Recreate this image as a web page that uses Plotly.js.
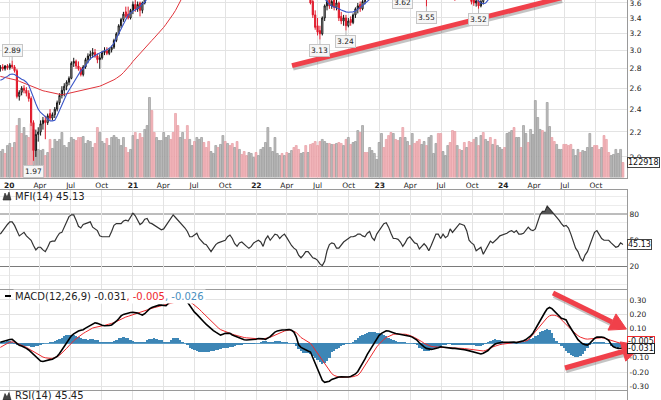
<!DOCTYPE html>
<html><head><meta charset="utf-8">
<script src="https://cdn.plot.ly/plotly-3.0.1.min.js"></script>
<style>html,body{margin:0;padding:0;background:#fff}#chart{width:661px;height:400px}</style>
</head><body><div id="chart"></div>
<script>
// ---------- DATA (weekly bars, week 0 = 2019-12-06) ----------
const firstWeek = '2019-12-06';
const quarterTicks = ['2020-01-01','2020-04-01','2020-07-01','2020-10-01','2021-01-01','2021-04-01','2021-07-01','2021-10-01','2022-01-01','2022-04-01','2022-07-01','2022-10-01','2023-01-01','2023-04-01','2023-07-01','2023-10-01','2024-01-01','2024-04-01','2024-07-01','2024-10-01'];
const quarterLabels = ['<b>20</b>','Apr','Jul','Oct','<b>21</b>','Apr','Jul','Oct','<b>22</b>','Apr','Jul','Oct','<b>23</b>','Apr','Jul','Oct','<b>24</b>','Apr','Jul','Oct'];
const priceTicks = [2.0,2.2,2.4,2.6,2.8,3.0,3.2,3.4,3.6];

// candles visible inside the cropped price window
const candleWeek = [0,1,2,3,4,5,6,7,8,9,10,11,12,13,14,15,16,17,18,19,20,21,22,23,24,25,26,27,28,29,30,31,32,33,34,35,36,37,38,39,40,41,42,43,44,45,46,47,48,49,50,51,52,53,54,55,56,57,58,59,60,61,62,
 131,132,133,134,135,136,137,138,139,140,141,142,143,144,145,146,147,148,149,150,151,152,153,154,
 170,180,192,199,200,201,202,203,204,205];
const candleOpen = [2.80,2.82,2.80,2.83,2.81,2.84,2.82,2.78,2.52,2.56,2.60,2.58,2.55,2.50,2.28,2.05,2.18,2.20,2.27,2.30,2.28,2.36,2.32,2.35,2.40,2.46,2.53,2.58,2.62,2.66,2.70,2.86,2.88,2.83,2.80,2.74,2.82,2.90,2.94,2.96,2.98,2.94,2.90,2.92,2.98,3.00,2.97,3.01,3.04,3.12,3.20,3.30,3.38,3.48,3.45,3.40,3.50,3.58,3.52,3.60,3.50,3.60,3.70,
 3.70,3.62,3.44,3.30,3.24,3.20,3.40,3.56,3.64,3.56,3.64,3.54,3.60,3.42,3.36,3.40,3.30,3.38,3.34,3.44,3.52,3.58,3.52,3.62,
 3.72,3.72,3.75,3.72,3.64,3.60,3.63,3.56,3.62,3.68];
const candleHigh = [2.84,2.85,2.84,2.85,2.86,2.89,2.84,2.80,2.58,2.62,2.63,2.61,2.58,2.52,2.30,2.22,2.24,2.30,2.33,2.34,2.36,2.40,2.37,2.42,2.48,2.55,2.62,2.65,2.68,2.72,2.88,2.92,2.90,2.88,2.82,2.84,2.92,2.97,3.00,3.03,3.02,2.97,2.96,3.00,3.04,3.04,3.03,3.06,3.14,3.22,3.32,3.40,3.48,3.55,3.55,3.52,3.62,3.64,3.62,3.62,3.62,3.72,3.80,
 3.75,3.66,3.50,3.40,3.30,3.42,3.58,3.66,3.70,3.68,3.68,3.66,3.62,3.48,3.44,3.44,3.40,3.42,3.46,3.54,3.60,3.62,3.64,3.72,
 3.78,3.78,3.78,3.75,3.68,3.66,3.66,3.64,3.70,3.78];
const candleLow = [2.77,2.78,2.78,2.79,2.79,2.80,2.76,2.50,2.48,2.53,2.55,2.52,2.47,2.25,1.97,2.00,2.12,2.17,2.22,2.14,2.26,2.30,2.30,2.32,2.38,2.44,2.50,2.52,2.58,2.63,2.69,2.82,2.80,2.78,2.72,2.72,2.80,2.86,2.90,2.92,2.92,2.86,2.80,2.90,2.95,2.95,2.95,2.98,3.02,3.10,3.18,3.27,3.35,3.40,3.38,3.38,3.45,3.48,3.48,3.42,3.46,3.58,3.68,
 3.58,3.40,3.25,3.18,3.13,3.18,3.36,3.50,3.52,3.52,3.50,3.50,3.36,3.32,3.30,3.24,3.28,3.30,3.32,3.40,3.46,3.48,3.50,3.58,
 3.62,3.55,3.63,3.58,3.56,3.55,3.52,3.54,3.58,3.66];
const candleClose = [2.82,2.80,2.83,2.81,2.84,2.82,2.78,2.52,2.56,2.60,2.58,2.55,2.50,2.28,2.05,2.18,2.20,2.27,2.30,2.28,2.34,2.32,2.35,2.40,2.46,2.53,2.58,2.62,2.66,2.70,2.86,2.88,2.83,2.80,2.74,2.82,2.90,2.94,2.96,2.98,2.94,2.90,2.92,2.98,3.00,2.97,3.01,3.04,3.12,3.20,3.30,3.38,3.45,3.42,3.40,3.50,3.58,3.52,3.58,3.50,3.60,3.70,3.78,
 3.60,3.44,3.28,3.22,3.20,3.40,3.56,3.62,3.56,3.62,3.54,3.60,3.40,3.36,3.40,3.30,3.36,3.34,3.44,3.52,3.56,3.52,3.62,3.70,
 3.68,3.65,3.68,3.62,3.60,3.63,3.56,3.62,3.68,3.76];

// moving averages (visible stretches)
const redMAStart = 0;
const redMA = [2.72,2.715,2.71,2.705,2.70,2.695,2.69,2.68,2.67,2.66,2.65,2.645,2.635,2.62,2.61,2.60,2.59,2.58,2.575,2.57,
 2.565,2.56,2.55,2.545,2.54,2.535,2.535,2.54,2.545,2.55,2.555,2.56,2.565,2.57,2.575,2.58,2.59,2.595,2.60,2.605,
 2.61,2.615,2.62,2.63,2.64,2.65,2.66,2.67,2.685,2.70,2.715,2.735,2.76,2.785,2.81,2.845,2.88,2.91,2.94,2.975,
 3.005,3.035,3.06,3.09,3.12,3.15,3.18,3.21,3.245,3.28,3.32,3.36,3.40,3.45,3.50,3.56,3.62,3.68,3.75];
const blueMA1Start = 0;
const blueMA1 = [2.68,2.69,2.71,2.72,2.74,2.745,2.74,2.72,2.70,2.69,2.68,2.66,2.63,2.56,2.51,2.45,2.40,2.37,2.35,2.33,
 2.31,2.295,2.295,2.30,2.34,2.39,2.45,2.50,2.54,2.58,2.62,2.65,2.70,2.74,2.78,2.80,2.84,2.87,2.91,2.93,
 2.95,2.96,2.975,2.99,3.00,3.01,3.03,3.05,3.09,3.14,3.20,3.26,3.32,3.39,3.44,3.46,3.49,3.505,3.53,3.55,3.59,3.61,3.66,3.72];
const blueMA2Start = 136;
const blueMA2 = [3.70,3.66,3.61,3.58,3.56,3.55,3.53,3.52,3.505,3.49,3.48,3.475,3.475,3.48,3.49,3.51,3.54,3.565,3.59,3.62,3.65,3.70];
const blueMA3Start = 200;
const blueMA3 = [3.70,3.66,3.63,3.60,3.59,3.60,3.635,3.68];

// weekly volume (thousands) and up/down week flag
const volumeK = [213,230,197,262,279,246,287,426,484,361, 410,344,328,443,394,312,230,221,230,180,
 205,312,238,312,295,312,369,262,246,287, 328,312,303,328,328,336,279,303,295,246,
 279,410,369,295,279,320,262,328,344,328, 312,262,328,246,205,230,344,369,312,361,
 328,394,426,656,549,369,328,303,303,369, 328,344,312,369,525,426,328,369,312,426,
 312,262,295,328,312,328,287,246,295,213, 197,262,246,271,344,295,279,262,279,246,
 295,230,189,213,180,205,197,164,205,180, 230,246,287,410,246,213,328,197,180,197,
 180,205,197,221,246,262,230,197,205,262, 205,271,279,295,262,295,312,295,279,279,
 271,271,279,287,279,262,312,328,271,287, 295,385,369,426,205,205,246,221,197,148,
 287,361,246,312,344,369,361,312,303,328, 410,328,295,262,361,279,295,312,271,295,
 262,328,344,197,279,361,361,213,180,262, 287,385,377,262,230,221,287,246,295,287,
 312,328,262,344,369,312,295,328,271,312, 262,246,230,246,361,369,385,410,328,328,
 246,426,361,287,394,353,631,492,394,385, 369,615,418,328,295,271,230,230,271,271,
 262,271,230,180,230,205,221,213,246,361, 246,262,262,230,246,344,312,205,180,189,
 230,197,230,122.918];
const volumeUp = [1,1,0,1,1,0,1,0,1,0, 1,1,0,0,0,1,1,1,1,0, 1,0,1,1,1,1,1,1,1,1, 1,1,0,0,0,1,1,1,1,1,
 0,0,1,1,1,0,1,1,1,1, 1,1,1,0,0,1,1,0,1,0, 0,1,1,1,0,0,1,1,1,1, 1,1,0,0,0,0,1,1,0,0,
 1,1,0,1,1,1,0,0,0,1, 1,1,0,1,1,0,1,0,0,1, 0,1,0,0,0,1,1,1,0,1, 1,1,1,1,1,1,1,1,1,0,
 1,0,1,1,0,0,0,1,1,0, 1,0,0,0,0,0,1,1,1,0, 1,0,1,0,0,1,0,1,0,1, 1,1,0,1,0,0,1,1,1,1,
 1,1,0,0,0,0,1,0,0,1, 0,1,1,0,1,0,0,0,1,1, 0,1,1,1,1,0,0,1,1,1, 0,0,0,1,0,1,0,1,0,0,
 0,1,0,1,0,1,1,0,1,0, 1,1,1,0,1,1,1,0,1,1, 0,1,1,0,1,1,1,1,1,0, 1,1,1,0,0,1,1,1,0,0,
 0,0,1,1,1,0,1,1,1,1, 1,0,0,0,1,0,0,0,1,1, 1,1,1,0];

const mfi = [57,61,65,68,71,71,67,60,55,57, 59,55,53,50,44,39,42,42,39,37, 42,48,49,49,54,58,59,65,72,77,
 79,79,73,66,64,68,69,70,71,65, 63,61,55,54,54,54,54,60,67,69, 69,69,72,73,72,76,81,78,72,68,
 70,74,75,70,69,67,65,63,62,63, 67,72,76,79,76,73,71,68,64,60, 54,54,56,58,52,49,46,45,41,37,
 41,45,47,48,49,50,54,56,52,46, 43,47,48,45,43,41,43,47,49,50, 48,43,51,55,50,54,57,56,52,55,
 57,53,48,44,41,39,33,30,33,37, 37,33,30,29,27,23,21,26,38,45, 47,46,41,41,45,48,50,52,54,54,
 55,57,57,55,54,58,60,53,50,57, 61,64,69,70,65,58,52,52,51,48, 43,47,52,54,50,47,46,40,43,46,
 43,38,44,50,57,57,52,57,53,55, 63,59,62,65,69,68,67,61,50,47, 45,38,40,42,34,39,45,49,47,49,
 52,55,56,57,58,60,61,59,61,57, 57,58,61,65,62,61,63,70,79,83, 83,89,86,82,79,77,73,69,66,67,
 64,57,50,41,37,30,26,33,37,44, 51,59,61,56,52,50,50,50,47,44, 42,43,47,45.13];

const macd = [0.008,0.013,0.018,0.023,0.026,0.027,0.015,0.000,-0.014,-0.018,
 -0.024,-0.035,-0.046,-0.062,-0.081,-0.097,-0.114,-0.123,-0.126,-0.120,
 -0.115,-0.113,-0.110,-0.102,-0.090,-0.070,-0.046,-0.016,0.009,0.030,
 0.052,0.066,0.077,0.085,0.090,0.094,0.105,0.115,0.125,0.135,
 0.142,0.138,0.129,0.125,0.122,0.120,0.123,0.127,0.138,0.153,
 0.170,0.190,0.200,0.205,0.209,0.213,0.214,0.213,0.210,0.202,
 0.196,0.205,0.222,0.238,0.248,0.255,0.260,0.264,0.264,0.260,
 0.260,0.277,0.290,0.308,0.325,0.335,0.338,0.330,0.310,0.286,
 0.255,0.238,0.216,0.200,0.180,0.164,0.148,0.131,0.115,0.100,
 0.088,0.077,0.066,0.057,0.063,0.069,0.069,0.069,0.058,0.051,
 0.044,0.037,0.031,0.025,0.023,0.023,0.023,0.025,0.028,0.033,
 0.034,0.031,0.027,0.035,0.046,0.062,0.078,0.086,0.091,0.092,
 0.092,0.094,0.095,0.090,0.078,0.045,-0.010,-0.028,-0.038,-0.048,
 -0.053,-0.060,-0.100,-0.139,-0.188,-0.225,-0.256,-0.270,-0.268,-0.262,
 -0.250,-0.244,-0.238,-0.233,-0.232,-0.234,-0.236,-0.233,-0.229,-0.222,
 -0.212,-0.195,-0.168,-0.143,-0.110,-0.077,-0.050,-0.021,0.006,0.035,
 0.055,0.069,0.078,0.087,0.085,0.082,0.074,0.068,0.065,0.065,
 0.063,0.059,0.054,0.049,0.043,0.035,0.022,0.004,-0.013,-0.024,
 -0.035,-0.039,-0.042,-0.039,-0.036,-0.030,-0.024,-0.026,-0.033,-0.035,
 -0.035,-0.035,-0.035,-0.036,-0.038,-0.040,-0.044,-0.047,-0.052,-0.058,
 -0.064,-0.069,-0.072,-0.074,-0.069,-0.061,-0.050,-0.032,-0.018,-0.005,
 0.001,0.005,0.007,0.007,0.007,0.010,0.012,0.008,0.005,0.009,
 0.012,0.018,0.026,0.038,0.052,0.070,0.100,0.128,0.157,0.190,
 0.213,0.238,0.248,0.240,0.224,0.208,0.190,0.173,0.168,0.162,
 0.130,0.104,0.069,0.046,0.025,0.010,-0.003,-0.009,-0.012,0.000,
 0.018,0.034,0.044,0.045,0.043,0.041,0.031,0.021,-0.007,-0.024,
 -0.030,-0.035,-0.034,-0.031];
const macdSignal = [-0.028,-0.018,-0.008,0.000,0.006,0.011,0.006,0.000,-0.004,-0.011,
 -0.016,-0.027,-0.038,-0.047,-0.058,-0.069,-0.080,-0.088,-0.095,-0.100,
 -0.104,-0.104,-0.104,-0.101,-0.093,-0.083,-0.068,-0.055,-0.035,-0.017,
 0.002,0.018,0.032,0.046,0.057,0.068,0.078,0.089,0.098,0.106,
 0.110,0.115,0.118,0.121,0.124,0.127,0.131,0.138,0.143,0.152,
 0.160,0.167,0.175,0.182,0.187,0.193,0.199,0.204,0.209,0.213,
 0.219,0.225,0.230,0.236,0.242,0.247,0.251,0.256,0.259,0.264,
 0.268,0.273,0.277,0.281,0.286,0.291,0.296,0.298,0.296,0.292,
 0.287,0.277,0.265,0.254,0.237,0.220,0.203,0.187,0.172,0.155,
 0.140,0.123,0.108,0.095,0.088,0.080,0.074,0.069,0.063,0.058,
 0.053,0.047,0.042,0.040,0.038,0.036,0.034,0.032,0.030,0.030,
 0.030,0.031,0.032,0.037,0.042,0.050,0.057,0.064,0.072,0.078,
 0.085,0.089,0.092,0.089,0.083,0.075,0.058,0.040,0.030,0.020,
 0.010,0.000,-0.022,-0.046,-0.068,-0.093,-0.115,-0.139,-0.165,-0.185,
 -0.210,-0.222,-0.229,-0.234,-0.236,-0.236,-0.236,-0.235,-0.233,-0.231,
 -0.226,-0.221,-0.205,-0.178,-0.155,-0.130,-0.104,-0.078,-0.050,-0.025,
 -0.006,0.012,0.027,0.040,0.049,0.056,0.062,0.064,0.065,0.065,
 0.065,0.063,0.060,0.056,0.048,0.040,0.032,0.023,0.012,0.000,
 -0.008,-0.016,-0.021,-0.024,-0.026,-0.028,-0.029,-0.030,-0.030,-0.030,
 -0.030,-0.030,-0.030,-0.030,-0.033,-0.035,-0.036,-0.038,-0.041,-0.044,
 -0.047,-0.051,-0.053,-0.053,-0.053,-0.049,-0.044,-0.036,-0.025,-0.018,
 -0.012,-0.009,-0.006,-0.003,-0.001,0.001,0.004,0.006,0.007,0.007,
 0.009,0.012,0.017,0.023,0.040,0.056,0.080,0.100,0.120,0.142,
 0.160,0.178,0.190,0.195,0.194,0.190,0.180,0.165,0.147,0.130,
 0.114,0.097,0.081,0.067,0.053,0.043,0.036,0.031,0.029,0.031,
 0.034,0.037,0.040,0.041,0.039,0.036,0.031,0.025,0.020,0.013,
 0.008,0.004,0.000,-0.005];
const macdHist = [0.008,0.010,0.012,0.013,0.015,0.012,-0.005,-0.010,-0.015,-0.018,
 -0.020,-0.020,-0.020,-0.022,-0.022,-0.020,-0.018,-0.012,-0.005,0.000,
 0.005,0.008,0.010,0.015,0.022,0.030,0.040,0.048,0.055,0.058,
 0.058,0.055,0.050,0.042,0.035,0.030,0.028,0.026,0.027,0.027,
 0.025,0.020,0.012,0.008,0.006,0.006,0.008,0.010,0.015,0.025,
 0.035,0.040,0.042,0.040,0.035,0.025,0.018,0.012,0.010,0.008,
 0.008,0.012,0.020,0.028,0.032,0.035,0.030,0.025,0.020,0.012,
 0.008,0.010,0.025,0.035,0.038,0.035,0.025,0.010,0.000,-0.015,
 -0.030,-0.040,-0.048,-0.055,-0.058,-0.058,-0.058,-0.058,-0.057,-0.055,
 -0.050,-0.048,-0.045,-0.040,-0.035,-0.030,-0.030,-0.028,-0.025,-0.020,
 -0.015,-0.012,-0.010,-0.008,-0.008,-0.008,-0.006,-0.004,0.000,0.005,
 0.010,0.015,0.015,0.012,0.010,0.012,0.015,0.016,0.014,0.012,
 0.010,0.008,0.005,0.002,-0.005,-0.020,-0.040,-0.055,-0.065,-0.070,
 -0.070,-0.075,-0.085,-0.100,-0.115,-0.130,-0.140,-0.135,-0.120,-0.100,
 -0.060,-0.050,-0.040,-0.030,-0.020,-0.012,-0.008,-0.004,0.000,0.008,
 0.020,0.035,0.050,0.060,0.068,0.072,0.075,0.076,0.075,0.072,
 0.070,0.066,0.060,0.050,0.040,0.030,0.022,0.016,0.012,0.010,
 0.008,0.006,0.004,0.002,0.000,-0.005,-0.015,-0.030,-0.042,-0.050,
 -0.052,-0.050,-0.045,-0.040,-0.035,-0.030,-0.022,-0.015,-0.010,-0.008,
 -0.008,-0.010,-0.010,-0.012,-0.012,-0.012,-0.012,-0.010,-0.010,-0.012,
 -0.015,-0.018,-0.020,-0.018,-0.012,-0.005,0.008,0.018,0.025,0.028,
 0.026,0.020,0.014,0.010,0.006,0.005,0.006,0.004,0.002,0.004,
 0.006,0.010,0.015,0.020,0.028,0.036,0.048,0.060,0.075,0.088,
 0.095,0.097,0.090,0.070,0.040,0.015,-0.005,-0.020,-0.035,-0.050,
 -0.065,-0.080,-0.090,-0.097,-0.095,-0.090,-0.075,-0.055,-0.035,-0.015,
 0.000,0.008,0.012,0.012,0.010,0.006,0.000,-0.008,-0.018,-0.024,
 -0.028,-0.030,-0.028,-0.026];

// price point labels: [week, price]
const lowLabels = [[14,1.97],[135,3.13],[146,3.24],[180,3.55],[202,3.52]];
const highLabels = [[5,2.89]];
const topLabels = [[170,3.62]];

// ---------- helpers ----------
function wk(i){ const d=new Date(Date.UTC(2019,11,6)+i*7*864e5); return d.toISOString().slice(0,10); }
const N = volumeK.length;
const dates = Array.from({length:N},(_,i)=>wk(i));
const seg = (start,arr)=>arr.map((_,k)=>wk(start+k));
const W=627, H=400;
const PX = x=>x/W, PY = y=>1-y/H;
function pathPx(pts){ return 'M'+pts.map(p=>PX(p[0]).toFixed(5)+','+PY(p[1]).toFixed(5)).join(' L')+' Z'; }

const FONT='DejaVu Sans';
const grid='#e3e3e3';
const barW = 7*864e5*0.82;

const traces = [];
traces.push({type:'bar', x:dates, y:volumeK, xaxis:'x', yaxis:'y', width:barW,
  marker:{color:volumeUp.map(u=>u?'#bebebe':'#f3b9be'), line:{color:volumeUp.map(u=>u?'#8e8e8e':'#e3939b'), width:0.6}}});
traces.push({type:'candlestick', x:candleWeek.map(wk), open:candleOpen, high:candleHigh, low:candleLow, close:candleClose,
  xaxis:'x', yaxis:'y2', whiskerwidth:0,
  increasing:{line:{color:'#111', width:1}, fillcolor:'#ffffff'},
  decreasing:{line:{color:'#e0192b', width:1}, fillcolor:'#e0192b'}});
traces.push({type:'scatter', mode:'lines', x:seg(redMAStart,redMA), y:redMA, xaxis:'x', yaxis:'y2', line:{color:'#e0353c', width:1}});
[[blueMA1Start,blueMA1],[blueMA2Start,blueMA2],[blueMA3Start,blueMA3]].forEach(([s,a])=>{
  traces.push({type:'scatter', mode:'lines', x:seg(s,a), y:a, xaxis:'x', yaxis:'y2', line:{color:'#3a56c8', width:1.1}});
});
traces.push({type:'scatter', mode:'lines', x:dates, y:dates.map(()=>80), xaxis:'x2', yaxis:'y3', line:{width:0, color:'rgba(0,0,0,0)'}});
traces.push({type:'scatter', mode:'lines', x:dates, y:mfi.map(v=>Math.max(v,80)), xaxis:'x2', yaxis:'y3', fill:'tonexty', fillcolor:'#555', line:{width:0, color:'rgba(0,0,0,0)'}});
traces.push({type:'scatter', mode:'lines', x:dates, y:mfi, xaxis:'x2', yaxis:'y3', line:{color:'#333', width:1.2}});
traces.push({type:'bar', x:dates, y:macdHist, xaxis:'x3', yaxis:'y4', width:7*864e5, marker:{color:'#3d86b6', line:{width:0}}});
traces.push({type:'scatter', mode:'lines', x:dates, y:macdSignal, xaxis:'x3', yaxis:'y4', line:{color:'#ee2a2e', width:1}});
traces.push({type:'scatter', mode:'lines', x:dates, y:macd, xaxis:'x3', yaxis:'y4', line:{color:'#000', width:1.6}});
traces.push({type:'scatter', mode:'lines', x:[dates[0]], y:[50], xaxis:'x4', yaxis:'y5', line:{width:0}});

const xRange=['2019-12-05','2025-01-01'];
const xBase = {range:xRange, type:'date', tickmode:'array', tickvals:quarterTicks, showgrid:true, gridcolor:grid, gridwidth:1, zeroline:false, ticks:'', rangeslider:{visible:false}};
const tickFont = {family:FONT, size:7.5, color:'#222'};

const layout = {
  width:661, height:400, margin:{l:0,r:34,t:0,b:0}, paper_bgcolor:'#fff', plot_bgcolor:'#fff',
  showlegend:false, hovermode:false, bargap:0,
  xaxis: Object.assign({}, xBase, {anchor:'y', ticktext:quarterLabels, showticklabels:true, tickfont:tickFont, showline:true, linecolor:'#9a9a9a', linewidth:1}),
  xaxis2: Object.assign({}, xBase, {anchor:'y3', matches:'x', ticktext:quarterLabels, showticklabels:false, showline:true, mirror:true, linecolor:'#9a9a9a'}),
  xaxis3: Object.assign({}, xBase, {anchor:'y4', matches:'x', ticktext:quarterLabels, showticklabels:false, showline:true, mirror:true, linecolor:'#9a9a9a'}),
  xaxis4: Object.assign({}, xBase, {anchor:'y5', matches:'x', ticktext:quarterLabels, showticklabels:false, showline:true, mirror:true, linecolor:'#9a9a9a'}),
  yaxis: {domain:[1-177.5/400,1], anchor:'x', range:[0,1455.5], showticklabels:false, showgrid:false, zeroline:false, fixedrange:true},
  yaxis2: {overlaying:'y', anchor:'x', side:'right', type:'log', range:[Math.log10(1.849), Math.log10(3.641)],
           tickmode:'array', tickvals:priceTicks, ticktext:priceTicks.map(v=>v.toFixed(1)), tickfont:tickFont, ticklabeloverflow:'allow',
           showgrid:true, gridcolor:grid, zeroline:false, showline:true, linecolor:'#9a9a9a', ticks:''},
  yaxis3: {domain:[1-289/400, 1-189.5/400], anchor:'x2', side:'right', range:[-5.7,108], tickmode:'array', tickvals:[20,50,80],
           tickfont:tickFont, showgrid:false, zeroline:false, showline:true, mirror:true, linecolor:'#9a9a9a', ticks:'',
           minor:{tickmode:'array', tickvals:[0,10,30,40,60,70,90,100], showgrid:true, gridcolor:'#ececec', ticks:''}},
  yaxis4: {domain:[1-390/400, 1-290/400], anchor:'x3', side:'right', range:[-0.323,0.369], tickmode:'array',
           tickvals:[-0.3,-0.2,-0.1,0.1,0.2,0.3], ticktext:['-0.30','-0.20','-0.10','0.10','0.20','0.30'],
           tickfont:tickFont, showgrid:true, gridcolor:grid, zeroline:true, zerolinecolor:'#5b9cc6', zerolinewidth:1,
           showline:true, mirror:true, linecolor:'#9a9a9a', ticks:''},
  yaxis5: {domain:[0, 1-391/400], anchor:'x4', side:'right', range:[0,100], showticklabels:false, showgrid:false, zeroline:false,
           showline:true, mirror:true, linecolor:'#9a9a9a'},
  shapes:[], annotations:[]
};

[80,20].forEach(v=>layout.shapes.push({type:'line', xref:'paper', yref:'y3', x0:0, x1:1, y0:v, y1:v, line:{color:'#7a7a7a', width:1}, layer:'below'}));

const red='#f0404a', shadow='rgba(60,60,60,0.3)';
layout.shapes.push({type:'line', xref:'paper', yref:'paper', x0:PX(293), y0:PY(68), x1:PX(562), y1:PY(0.5), line:{color:shadow, width:5}});
layout.shapes.push({type:'line', xref:'paper', yref:'paper', x0:PX(292), y0:PY(65.7), x1:PX(562), y1:PY(-2.3), line:{color:red, width:5}});
layout.shapes.push({type:'line', xref:'paper', yref:'paper', x0:PX(554), y0:PY(295.5), x1:PX(613), y1:PY(324.5), line:{color:shadow, width:5}});
layout.shapes.push({type:'line', xref:'paper', yref:'paper', x0:PX(553), y0:PY(293), x1:PX(612), y1:PY(322), line:{color:red, width:5}});
layout.shapes.push({type:'path', xref:'paper', yref:'paper', path:pathPx([[626.4,329.1],[608,330.1],[616,313.9]]), fillcolor:red, line:{color:red, width:1}});
layout.shapes.push({type:'line', xref:'paper', yref:'paper', x0:PX(566), y0:PY(370.5), x1:PX(624), y1:PY(354), line:{color:shadow, width:5}});
layout.shapes.push({type:'line', xref:'paper', yref:'paper', x0:PX(565), y0:PY(368), x1:PX(623), y1:PY(351.5), line:{color:red, width:5}});
layout.shapes.push({type:'path', xref:'paper', yref:'paper', path:pathPx([[642.2,346],[625.7,361.1],[620.3,341.9]]), fillcolor:red, line:{color:red, width:1}});
layout.shapes.push({type:'path', xref:'paper', yref:'paper', path:pathPx([[3,200],[5,193],[7,197],[9,192],[11,200]]), fillcolor:'#444', line:{color:'#222', width:0.6}});
layout.shapes.push({type:'path', xref:'paper', yref:'paper', path:pathPx([[3,400],[5,393.5],[7,397],[9,392.5],[11,400]]), fillcolor:'#444', line:{color:'#222', width:0.6}});
layout.shapes.push({type:'line', xref:'paper', yref:'paper', x0:PX(5), x1:PX(11), y0:PY(296), y1:PY(296), line:{color:'#000', width:2}});

const legFont={family:FONT, size:10, color:'#222'};
layout.annotations.push({xref:'paper', yref:'paper', x:PX(13), y:PY(196), xanchor:'left', yanchor:'middle', showarrow:false, text:'MFI(14) 45.13', font:legFont});
layout.annotations.push({xref:'paper', yref:'paper', x:PX(13), y:PY(395.5), xanchor:'left', yanchor:'middle', showarrow:false, text:'RSI(14) 45.45', font:legFont});
layout.annotations.push({xref:'paper', yref:'paper', x:PX(13), y:PY(296), xanchor:'left', yanchor:'middle', showarrow:false, bgcolor:'#fff', borderpad:1,
  text:'MACD(12,26,9) -0.031<span style="color:#ee2a2e">, -0.005</span><span style="color:#4a8fc0">, -0.026</span>', font:legFont});

const lblFont={family:FONT, size:7.5, color:'#222'};
const lblStyle={showarrow:true, arrowhead:0, arrowwidth:1, arrowcolor:'#b8b8b8', ax:0, bgcolor:'#f6f6f6', bordercolor:'#c6c6c6', borderwidth:1, borderpad:1, font:lblFont, xref:'x', yref:'y2'};
lowLabels.forEach(([w,p])=>layout.annotations.push(Object.assign({}, lblStyle, {x:wk(w), y:Math.log10(p), ay:11, text:p.toFixed(2)})));
highLabels.forEach(([w,p])=>layout.annotations.push(Object.assign({}, lblStyle, {x:wk(w), y:Math.log10(p), ay:-10, text:p.toFixed(2)})));
topLabels.forEach(([w,p])=>layout.annotations.push(Object.assign({}, lblStyle, {x:wk(w), y:Math.log10(3.60), showarrow:false, text:p.toFixed(2)})));

const flagFont={family:FONT, size:8, color:'#111'};
layout.annotations.push({xref:'paper', yref:'y', x:1, y:volumeK[N-1], xanchor:'left', yanchor:'middle', showarrow:false, text:String(Math.round(volumeK[N-1]*1000)), font:flagFont, bgcolor:'#fff', bordercolor:'#444', borderwidth:1, borderpad:0});
layout.annotations.push({xref:'paper', yref:'y3', x:1, y:mfi[N-1], xanchor:'left', yanchor:'middle', showarrow:false, text:mfi[N-1].toFixed(2), font:flagFont, bgcolor:'#fff', bordercolor:'#444', borderwidth:1, borderpad:0});
layout.annotations.push({xref:'paper', yref:'y4', x:1, y:macdSignal[N-1], yshift:3, xanchor:'left', yanchor:'middle', showarrow:false, text:macdSignal[N-1].toFixed(3), font:flagFont, bgcolor:'#fff', bordercolor:'#ee2a2e', borderwidth:1, borderpad:0});
layout.annotations.push({xref:'paper', yref:'y4', x:1, y:macd[N-1], yshift:-1, xanchor:'left', yanchor:'middle', showarrow:false, text:macd[N-1].toFixed(3), font:flagFont, bgcolor:'#fff', bordercolor:'#222', borderwidth:1, borderpad:0});

Plotly.newPlot('chart', traces, layout, {staticPlot:true, displayModeBar:false});
</script>
</body></html>
